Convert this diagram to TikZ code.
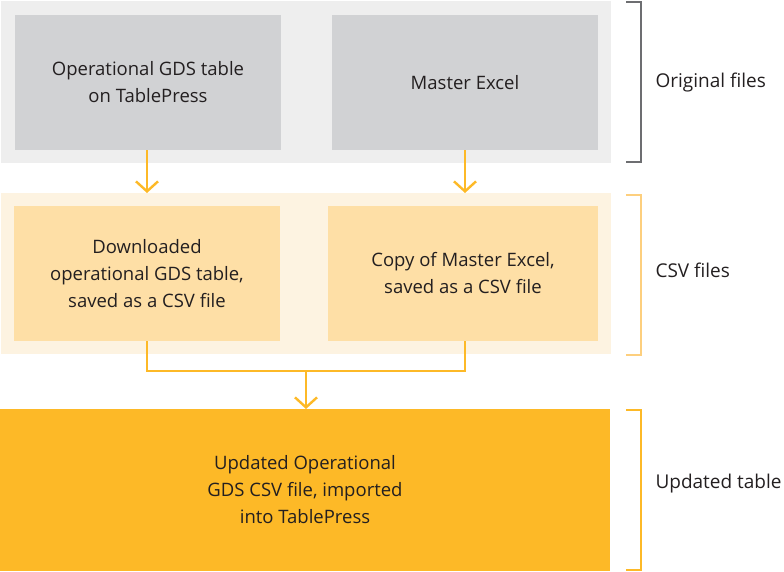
\documentclass[tikz,border=0pt]{standalone}
\usepackage{fontspec}
\setmainfont{Open Sans}
\usetikzlibrary{positioning, arrows.meta}

\definecolor{bandgray}{HTML}{EEEEEE}
\definecolor{boxgray}{HTML}{D1D2D4}
\definecolor{bandcream}{HTML}{FDF3E1}
\definecolor{boxpeach}{HTML}{FEDFA6}
\definecolor{peachline}{HTML}{FDCF7E}
\definecolor{gold}{HTML}{FDB927}
\definecolor{bracketgray}{HTML}{6D6E71}
\definecolor{textgray}{HTML}{231F20}

\tikzstyle{band}=[inner sep=0pt, outer sep=0pt, minimum width=610pt, minimum height=162pt]
\tikzstyle{filebox}=[inner sep=0pt, outer sep=0pt, minimum width=266pt, minimum height=135pt,
	align=center, text=textgray, font=\fontsize{18.5}{27}\selectfont]
\tikzstyle{flow}=[draw=gold, line width=2.6pt, ->, >={Straight Barb[length=10pt, width=22pt, line width=2.4pt]}]
\tikzstyle{bracket}=[line width=1.3pt]
\tikzstyle{side}=[text=textgray, font=\fontsize{19}{22}\selectfont, anchor=west]

\begin{document}
\begin{tikzpicture}[x=1pt, y=-1pt]
	\useasboundingbox (0,0) rectangle (784,571);
	% background bands
	\node[band, fill=bandgray, anchor=north west] (origband) at (1,1) {};
	\node[band, fill=bandcream, anchor=north west, minimum height=161pt] (csvband) at (1,193) {};
	% boxes
	\node[filebox, fill=boxgray, anchor=north west] (tablepress) at (15,15) {Operational GDS table\\on TablePress};
	\node[filebox, fill=boxgray, anchor=north west] (master) at (332,15) {Master Excel};
	\node[filebox, fill=boxpeach, anchor=north west] (download) at (14,206) {Downloaded\\operational GDS table,\\saved as a CSV file};
	\node[filebox, fill=boxpeach, anchor=north west, minimum width=270pt] (copy) at (328,206) {Copy of Master Excel,\\saved as a CSV file};
	\node[filebox, fill=gold, anchor=north west, minimum width=610pt, minimum height=162pt] (updated) at (0,409) {Updated Operational\\GDS CSV file, imported\\into TablePress};
	% connectors
	\coordinate (join) at (306,371);
	\path[flow] (tablepress.south -| 147,0) -- (147,193);
	\path[flow] (master.south -| 465,0) -- (465,193);
	\draw[gold, line width=2.6pt] (download.south -| 147,0) |- (join) -| (copy.south -| 465,0);
	\path[flow] (join) -- (updated.north -| join);
	% brackets
	\foreach \top/\bot/\col/\name/\ypos/\txt in {2/162/bracketgray/origlabel/83/Original files,
				195/355/peachline/csvlabel/270/CSV files,
				410/570/gold/updlabel/484/Updated table}
	{
		\draw[bracket, \col] (626,\top) -- (641,\top) -- (641,\bot) -- (626,\bot);
		\node[side] (\name) at (652,\ypos) {\txt};
	}
\end{tikzpicture}
\end{document}
